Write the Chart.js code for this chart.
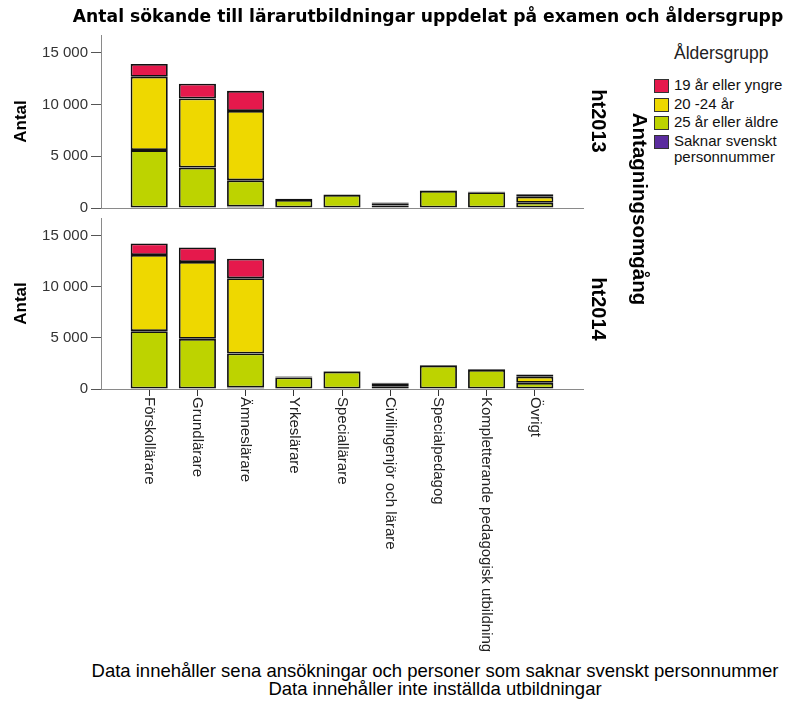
<!DOCTYPE html>
<html>
<head>
<meta charset="utf-8">
<script src="https://cdn.jsdelivr.net/npm/chart.js@4"></script>
<style>
  body { margin: 0; background: #fff; }
  #wrap { position: relative; width: 795px; height: 704px; overflow: hidden; font-family: "Liberation Sans", Arial, sans-serif; }
  canvas { position: absolute; left: 0; }
  .title { position: absolute; left: 428px; top: 6px; transform: translateX(-50%); white-space: nowrap;
           font: bold 17.2px "DejaVu Sans", Verdana, sans-serif; color: #000; }
  .vert { position: absolute; writing-mode: vertical-rl; white-space: nowrap; transform: translate(-50%, -50%);
          font-weight: bold; color: #000; }
  .legend-title { position: absolute; left: 674px; top: 43px; font-size: 17.5px; color: #222; }
  .item { position: absolute; left: 654px; display: flex; align-items: flex-start; font-size: 15px; line-height: 16px; color: #111; }
  .item i { display: block; width: 13px; height: 12px; border: 1px solid #333; margin: 2px 5px 0 0; flex: none; }
  .notes { position: absolute; left: 435px; top: 662px; transform: translateX(-50%); text-align: center;
           white-space: nowrap; font-size: 18.5px; line-height: 18px; color: #000; }
</style>
</head>
<body>
<div id="wrap">
  <canvas id="top" width="600" height="220" style="top:0"></canvas>
  <canvas id="bottom" width="600" height="454" style="top:206px"></canvas>
  <div class="title">Antal sökande till lärarutbildningar uppdelat på examen och åldersgrupp</div>
  <div class="vert" style="left:598px; top:121px; font-size:20px">ht2013</div>
  <div class="vert" style="left:598px; top:309px; font-size:20px">ht2014</div>
  <div class="vert" style="left:640px; top:209px; font-size:20.5px">Antagningsomgång</div>
  <div class="legend-title">Åldersgrupp</div>
  <div id="legend"></div>
  <div class="notes">Data innehåller sena ansökningar och personer som saknar svenskt personnummer<br>Data innehåller inte inställda utbildningar</div>
</div>
<script>
const categories = [
  "Förskollärare",
  "Grundlärare",
  "Ämneslärare",
  "Yrkeslärare",
  "Speciallärare",
  "Civilingenjör och lärare",
  "Specialpedagog",
  "Kompletterande pedagogisk utbildning",
  "Övrigt",
];

const ageGroups = ["19 år eller yngre", "20 -24 år", "25 år eller äldre", "Saknar svenskt personnummer"];
const ageColors = ["#E5194C", "#EED800", "#BDD300", "#5B2C9E"];

// ht2013
const under19_2013 = [1230, 1425, 1950, 30, 0, 80, 0, 20, 250];
const age20to24_2013 = [7080, 6665, 6690, 80, 40, 200, 50, 60, 580];
const over25_2013 = [5540, 3850, 2520, 780, 1260, 250, 1650, 1520, 500];
const noId_2013 = [50, 50, 150, 0, 0, 0, 0, 0, 0];

// ht2014
const under19_2014 = [1140, 1430, 1910, 30, 0, 90, 0, 20, 220];
const age20to24_2014 = [7430, 7500, 7340, 90, 50, 230, 70, 80, 600];
const over25_2014 = [5600, 4850, 3320, 1120, 1700, 280, 2280, 1850, 600];
const noId_2014 = [50, 50, 150, 0, 0, 0, 0, 0, 0];

const yTicks = [0, 5000, 10000, 15000];
const yMax = 16700;

Chart.defaults.font.family = '"Liberation Sans", Arial, sans-serif';

// legend, top to bottom like the original
document.getElementById("legend").innerHTML = ageGroups
  .map((g, i) => {
    const text = i === 3 ? "Saknar svenskt<br>personnummer" : g;
    return `<div class="item" style="top:${77 + 18.6 * i}px"><i style="background:${ageColors[i]}"></i><span>${text}</span></div>`;
  })
  .join("");

function makeDatasets(under19, age20to24, over25, noId) {
  // stacked bottom-up, so the order is reversed from the legend
  return [noId, over25, age20to24, under19].map((data, k) => ({
    label: ageGroups[3 - k],
    data: data,
    backgroundColor: ageColors[3 - k],
    borderColor: "#111",
    borderWidth: 1.8,
    borderSkipped: false,
    categoryPercentage: 1,
    barPercentage: 0.77,
  }));
}

// leave half a slot of air at both ends of the x axis, like SPSS
function widenX(scale) {
  scale._startValue = -1;
  scale._valueRange = categories.length + 1;
}

function thousands(v) {
  return String(v).replace(/\B(?=(\d{3})+$)/g, " ");
}

function makeOptions(withLabels, padTop, padBottom) {
  return {
    responsive: false,
    animation: false,
    layout: { padding: { top: padTop, right: 17, bottom: padBottom, left: 0 } },
    plugins: { legend: { display: false }, tooltip: { enabled: false } },
    scales: {
      x: {
        stacked: true,
        afterBuildTicks: widenX,
        afterFit: withLabels ? (s) => { s.height = 271; } : undefined,
        grid: { display: withLabels, drawTicks: withLabels, drawOnChartArea: false, offset: false, tickLength: 7, color: "#333" },
        border: { color: "#8a8a8a", width: 1 },
        ticks: { display: false },
      },
      y: {
        stacked: true,
        min: 0,
        max: yMax,
        afterBuildTicks: (s) => { s.ticks = yTicks.map((v) => ({ value: v })); },
        afterFit: (s) => { s.width = 101; },
        grid: { drawOnChartArea: false, tickLength: 10, color: "#555" },
        border: { color: "#8a8a8a" },
        ticks: { padding: 3, color: "#333", font: { size: 15 }, callback: thousands },
        title: {
          display: true,
          text: "Antal",
          color: "#000",
          font: { size: 17, weight: "bold" },
          padding: { top: 11.5, bottom: 0 },
        },
      },
    },
  };
}

// x labels read top-down, Chart.js rotates the other way so draw them here
const verticalLabels = {
  id: "verticalLabels",
  afterDraw(chart) {
    const { ctx, chartArea, scales: { x } } = chart;
    ctx.save();
    ctx.fillStyle = "#222";
    ctx.font = '15px "Liberation Sans", Arial, sans-serif';
    ctx.textAlign = "left";
    ctx.textBaseline = "middle";
    categories.forEach((label, i) => {
      ctx.save();
      ctx.translate(x.getPixelForValue(i), chartArea.bottom + 8);
      ctx.rotate(Math.PI / 2);
      ctx.fillText(label, 0, 0);
      ctx.restore();
    });
    ctx.restore();
  },
};

new Chart(document.getElementById("top"), {
  type: "bar",
  data: { labels: categories, datasets: makeDatasets(under19_2013, age20to24_2013, over25_2013, noId_2013) },
  options: makeOptions(false, 35, 8),
});

new Chart(document.getElementById("bottom"), {
  type: "bar",
  data: { labels: categories, datasets: makeDatasets(under19_2014, age20to24_2014, over25_2014, noId_2014) },
  options: makeOptions(true, 7, 0),
  plugins: [verticalLabels],
});
</script>
</body>
</html>
